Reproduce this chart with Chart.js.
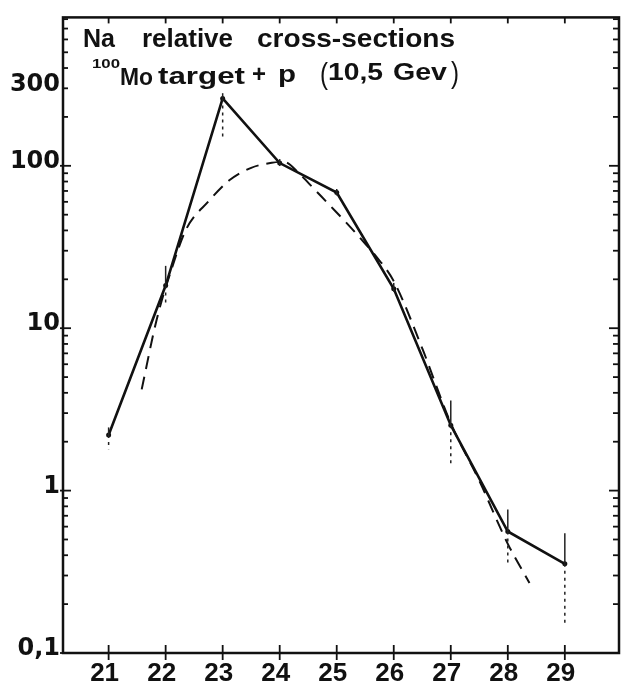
<!DOCTYPE html>
<html>
<head>
<meta charset="utf-8">
<script src="https://cdn.jsdelivr.net/npm/chart.js@4.4.1/dist/chart.umd.min.js"></script>
<style>
  html, body { margin: 0; padding: 0; background: #fff; }
  #wrap { width: 623px; height: 682px; position: relative; }
</style>
</head>
<body>
<div id="wrap"><canvas id="c"></canvas></div>
<script>
// ---- data ----
const massNumbers = [21, 22, 23, 24, 25, 26, 27, 28, 29];
const measured    = [2.2, 18.3, 260, 104, 68.5, 17.5, 2.53, 0.56, 0.354];
const errLow      = [1.80, 14.2, 150, 98, 62, 16, 1.46, 0.344, 0.148];
const errHigh     = [2.45, 24.2, 280, 110, 72, 19, 3.59, 0.766, 0.547];

const curveX = [21.58, 21.84, 22.10, 22.36, 22.75, 23.11, 23.50, 23.86, 24.07, 24.34, 24.51, 24.86, 25.16, 25.44, 25.68, 26.0, 26.5, 27.0, 27.5, 28.0, 28.38];
const curveY = [4.2, 11.2, 22.9, 40.7, 60.3, 81.1, 97.2, 104.3, 106, 90, 78, 58, 45, 35, 28, 19.5, 7.5, 2.6, 1.15, 0.47, 0.27];

const yTickValues = [0.1, 1, 10, 100, 300];
const yTickLabels = ['0,1', '1', '10', '100', '300'];
const xTickLabels = ['21', '22', '23', '24', '25', '26', '27', '28', '29'];

const titleLine1 = ['Na', 'relative', 'cross-sections'];
const titleLine2 = ['100', 'Mo', 'target', '+', 'p', '(', '10,5', 'Gev', ')'];

// ---- build datasets ----
const measuredPts = massNumbers.map((x, i) => ({ x: x, y: measured[i] }));
const curvePts = curveX.map((x, i) => ({ x: x, y: curveY[i] }));

const INK = '#111';

function drawFit(ctx, text, x, y, w, font) {
  ctx.font = font;
  const m = ctx.measureText(text).width;
  ctx.save();
  ctx.translate(x, y);
  ctx.scale(w / m, 1);
  ctx.fillText(text, 0, 0);
  ctx.restore();
}

const framePlugin = {
  id: 'frame',
  afterDatasetsDraw(chart) {
    const ctx = chart.ctx;
    const a = chart.chartArea;
    const xs = chart.scales.x, ys = chart.scales.y;
    ctx.save();
    // error bars
    ctx.strokeStyle = '#222';
    ctx.lineWidth = 1.5;
    massNumbers.forEach((m, i) => {
      const px = xs.getPixelForValue(m);
      const yv = ys.getPixelForValue(measured[i]);
      const yh = ys.getPixelForValue(errHigh[i]);
      const yl = ys.getPixelForValue(errLow[i]);
      ctx.setLineDash([]);
      ctx.beginPath(); ctx.moveTo(px, yh); ctx.lineTo(px, yv); ctx.stroke();
      ctx.setLineDash([3, 4]);
      ctx.beginPath(); ctx.moveTo(px, yv); ctx.lineTo(px, yl); ctx.stroke();
    });
    ctx.setLineDash([]);
    // frame
    ctx.strokeStyle = INK;
    ctx.lineWidth = 2.5;
    ctx.strokeRect(a.left, a.top, a.right - a.left, a.bottom - a.top);
    // x ticks (bottom crossing, top inward)
    ctx.lineWidth = 1.8;
    massNumbers.forEach(m => {
      const px = xs.getPixelForValue(m);
      ctx.beginPath(); ctx.moveTo(px, a.bottom - 8); ctx.lineTo(px, a.bottom + 7); ctx.stroke();
      ctx.beginPath(); ctx.moveTo(px, a.top); ctx.lineTo(px, a.top + 6); ctx.stroke();
    });
    // y ticks: log minors left & right
    for (let d = 0.1; d < 1000; d *= 10) {
      for (let k = 1; k <= 9; k++) {
        const v = d * k;
        if (v < ys.min || v > ys.max) continue;
        const py = ys.getPixelForValue(v);
        const major = (k === 1);
        ctx.beginPath();
        ctx.moveTo(a.left - (major ? 3 : 1), py);
        ctx.lineTo(a.left + (major ? 8 : 5), py);
        ctx.stroke();
        ctx.beginPath();
        ctx.moveTo(a.right - (major ? 10 : 6), py);
        ctx.lineTo(a.right, py);
        ctx.stroke();
      }
    }
    // title text inside plot
    ctx.fillStyle = INK;
    ctx.textBaseline = 'alphabetic';
    ctx.textAlign = 'left';
    const f1 = '700 25px "Liberation Sans", Arial, sans-serif';
    drawFit(ctx, titleLine1[0], 83, 47, 32, f1);
    drawFit(ctx, titleLine1[1], 142, 47, 91, f1);
    drawFit(ctx, titleLine1[2], 257, 47, 198, f1);
    const f2 = '700 23px "Liberation Sans", Arial, sans-serif';
    drawFit(ctx, titleLine2[0], 92, 68, 28, '700 13px "Liberation Sans", Arial, sans-serif');
    drawFit(ctx, titleLine2[1], 120, 85, 33, f2);
    drawFit(ctx, titleLine2[2], 158, 84, 87, f2);
    drawFit(ctx, titleLine2[3], 252, 82, 14, f2);
    drawFit(ctx, titleLine2[4], 278, 82, 18, f2);
    drawFit(ctx, titleLine2[5], 320, 84, 8, '400 29px "Liberation Sans", Arial, sans-serif');
    drawFit(ctx, titleLine2[6], 328, 80, 55, f2);
    drawFit(ctx, titleLine2[7], 393, 80, 54, f2);
    drawFit(ctx, titleLine2[8], 451, 83, 8, '400 29px "Liberation Sans", Arial, sans-serif');
    ctx.restore();
  }
};

new Chart(document.getElementById('c'), {
  type: 'scatter',
  data: {
    datasets: [
      {
        label: 'measured',
        data: measuredPts,
        showLine: true,
        borderColor: INK,
        backgroundColor: INK,
        borderWidth: 2.6,
        pointRadius: 2.5,
        pointBorderWidth: 0,
        tension: 0
      },
      {
        label: 'calculated',
        data: curvePts,
        showLine: true,
        borderColor: INK,
        borderWidth: 2,
        borderDash: [13, 8],
        pointRadius: 0,
        cubicInterpolationMode: 'monotone'
      }
    ]
  },
  options: {
    responsive: true,
    maintainAspectRatio: false,
    animation: false,
    devicePixelRatio: 1,
    layout: { padding: { top: 11, right: 1, left: 0, bottom: 0 } },
    plugins: { legend: { display: false }, tooltip: { enabled: false }, title: { display: false } },
    scales: {
      x: {
        type: 'linear',
        min: 20.2,
        max: 29.95,
        grid: { display: false, drawTicks: false },
        border: { display: false },
        afterBuildTicks: (axis) => { axis.ticks = massNumbers.map(v => ({ value: v })); },
        afterFit: (axis) => { axis.height = 29; },
        ticks: {
          autoSkip: false,
          maxRotation: 0,
          padding: 5,
          labelOffset: -4,
          color: INK,
          font: { family: '"Liberation Sans", Arial, sans-serif', size: 26, weight: 'bold' },
          callback: (v, i) => xTickLabels[i]
        }
      },
      y: {
        type: 'logarithmic',
        min: 0.1,
        max: 820,
        grid: { display: false, drawTicks: false },
        border: { display: false },
        afterBuildTicks: (axis) => { axis.ticks = yTickValues.map(v => ({ value: v, major: true })); },
        afterFit: (axis) => { axis.width = 63; },
        ticks: {
          autoSkip: false,
          padding: 3,
          labelOffset: -4,
          color: INK,
          font: { family: '"DejaVu Sans", sans-serif', size: 24, weight: 'bold' },
          callback: (v, i) => yTickLabels[i]
        }
      }
    }
  },
  plugins: [framePlugin]
});
</script>
</body>
</html>
